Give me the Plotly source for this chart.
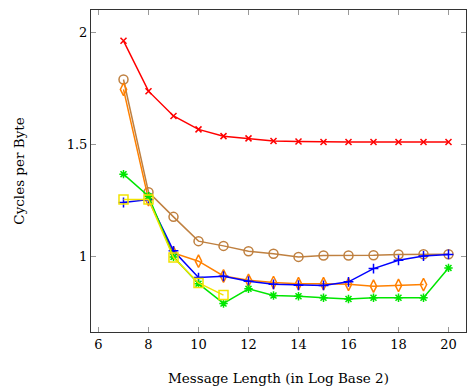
import plotly.graph_objects as go

x_all = [7, 8, 9, 10, 11, 12, 13, 14, 15, 16, 17, 18, 19, 20]

red_y = [1.961, 1.737, 1.627, 1.567, 1.537, 1.527, 1.515, 1.513, 1.511, 1.511, 1.511, 1.511, 1.511, 1.511]
brown_y = [1.789, 1.288, 1.178, 1.070, 1.049, 1.025, 1.014, 1.000, 1.006, 1.006, 1.007, 1.011, 1.012, 1.012]
orange_x = [7, 8, 9, 10, 11, 12, 13, 14, 15, 16, 17, 18, 19]
orange_y = [1.745, 1.255, 1.018, 0.981, 0.915, 0.896, 0.886, 0.881, 0.881, 0.878, 0.870, 0.873, 0.877]
blue_y = [1.242, 1.255, 1.027, 0.908, 0.914, 0.892, 0.878, 0.874, 0.873, 0.889, 0.948, 0.985, 1.004, 1.011]
green_y = [1.368, 1.270, 1.000, 0.881, 0.793, 0.858, 0.828, 0.825, 0.818, 0.813, 0.818, 0.818, 0.818, 0.951]
yellow_x = [7, 8, 9, 10, 11]
yellow_y = [1.255, 1.255, 0.997, 0.884, 0.830]

x_ticks = [6, 8, 10, 12, 14, 16, 18, 20]
y_ticks = [1, 1.5, 2]
y_tick_labels = ["1", "1.5", "2"]

series = [
    (x_all, red_y, "#FF0000", "x-thin-open", 6),
    (x_all, brown_y, "#BF8040", "circle-open", 9),
    (orange_x, orange_y, "#FF8000", "diamond-tall-open", 9),
    (x_all, blue_y, "#0000FF", "cross-thin-open", 7),
    (x_all, green_y, "#00E600", "asterisk-open", 7),
    (yellow_x, yellow_y, "#F2E200", "square-open", 9),
]

fig = go.Figure()
for xs, ys, col, sym, sz in series:
    fig.add_trace(go.Scatter(
        x=xs, y=ys, mode="lines+markers",
        line=dict(color=col, width=1.5),
        marker=dict(symbol=sym, size=sz, color=col, line=dict(color=col, width=1.5)),
        showlegend=False,
    ))

font_family = "DejaVu Serif, Liberation Serif, serif"
fig.update_layout(
    width=470, height=391,
    margin=dict(l=91, r=4, t=10, b=59),
    plot_bgcolor="white", paper_bgcolor="white",
    font=dict(family=font_family, size=13, color="black"),
)
fig.update_xaxes(
    range=[5.7, 20.7], tickvals=x_ticks, ticktext=[str(v) for v in x_ticks],
    showgrid=False, zeroline=False,
    showline=True, linecolor="#333333", linewidth=1, mirror="ticks",
    ticks="inside", ticklen=5, tickcolor="#999999", tickwidth=1,
    tickfont=dict(size=13),
    title=dict(text="Message Length (in Log Base 2)", font=dict(size=13.5), standoff=22),
)
fig.update_yaxes(
    range=[0.666, 2.098], tickvals=y_ticks, ticktext=y_tick_labels,
    showgrid=False, zeroline=False,
    showline=True, linecolor="#333333", linewidth=1, mirror="ticks",
    ticks="inside", ticklen=5, tickcolor="#999999", tickwidth=1,
    tickfont=dict(size=13),
    title=dict(text="Cycles per Byte", font=dict(size=13.5), standoff=38),
)

fig.write_html("out.html")
